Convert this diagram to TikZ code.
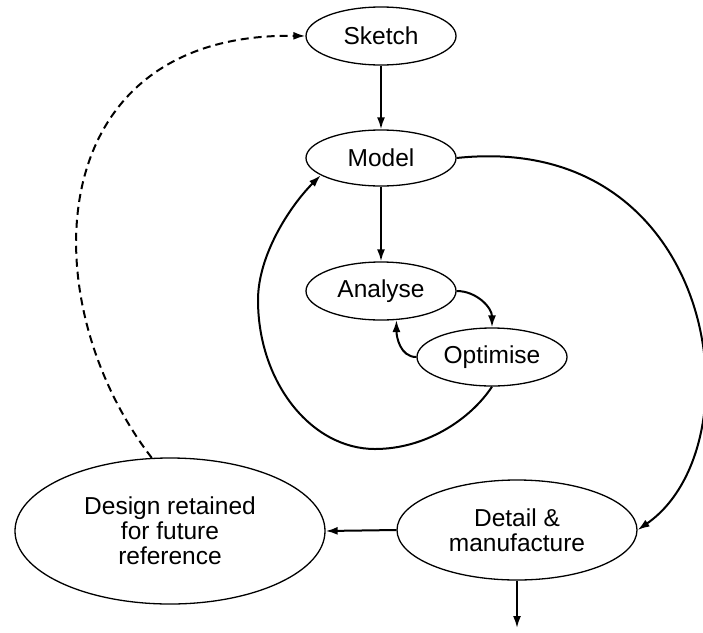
\documentclass[tikz,border=0pt]{standalone}
\usepackage{fontspec}
\setmainfont{Liberation Sans}
\usetikzlibrary{arrows.meta,shapes.geometric}
\begin{document}
\begin{tikzpicture}[x=1pt,y=-1pt,
  bubble/.style={draw, ellipse, line width=1.3pt, inner sep=0pt, align=center,
    font=\fontsize{24.5}{25}\selectfont},
  flow/.style={line width=2pt, -{Latex[length=12pt,width=8pt]}},
  recall/.style={flow, dash pattern=on 8pt off 5pt}]
\useasboundingbox (0,0) rectangle (703,632);

% process stages
\node[bubble, minimum width=150pt, minimum height=58pt] (sketch) at (381,36) {Sketch};
\node[bubble, minimum width=150pt, minimum height=56pt] (model) at (381,158) {Model};
\node[bubble, minimum width=150pt, minimum height=58pt] (analyse) at (381,291) {Analyse};
\node[bubble, minimum width=150pt, minimum height=58pt] (opt) at (492,357) {Optimise};
\node[bubble, minimum width=240pt, minimum height=100pt] (detail) at (517,530) {Detail \&\\manufacture};
\node[bubble, minimum width=310pt, minimum height=146pt] (design) at (170,531) {Design retained\\for future\\reference};

% control points and free ends
\coordinate (out) at (517,628);
\coordinate (loopB) at (375,449);
\coordinate (loopL) at (258,300);
\coordinate (c1) at (718,130);
\coordinate (c2) at (760,445);
\coordinate (b1) at (470,420);
\coordinate (b2) at (425,449);
\coordinate (b3) at (311,449);
\coordinate (b4) at (258,382);
\coordinate (b5) at (258,255);
\coordinate (b6) at (290,206);
\coordinate (c7) at (30,300);
\coordinate (c8) at (40,32);

% straight flow
\draw[flow] (sketch.south) -- (model.north);
\draw[flow] (model.south) -- (analyse.north);
\draw[flow] (detail.west) -- (design.east);
\draw[flow] (detail.south) -- (out);

% analyse / optimise cycle
\draw[flow] (analyse.east) to[out=0, in=90] (opt.north);
\draw[flow] (opt.west) to[out=180, in=-90] (analyse.298);

% loop back to the model
\draw[flow] (opt.south) .. controls (b1) and (b2) .. (loopB)
  .. controls (b3) and (b4) .. (loopL)
  .. controls (b5) and (b6) .. (model.196);

% model to detail
\draw[flow] (model.east) .. controls (c1) and (c2) .. (detail.east);

% retained design feeds new sketches
\draw[recall] (design.104) .. controls (c7) and (c8) .. (sketch.west);
\end{tikzpicture}
\end{document}
